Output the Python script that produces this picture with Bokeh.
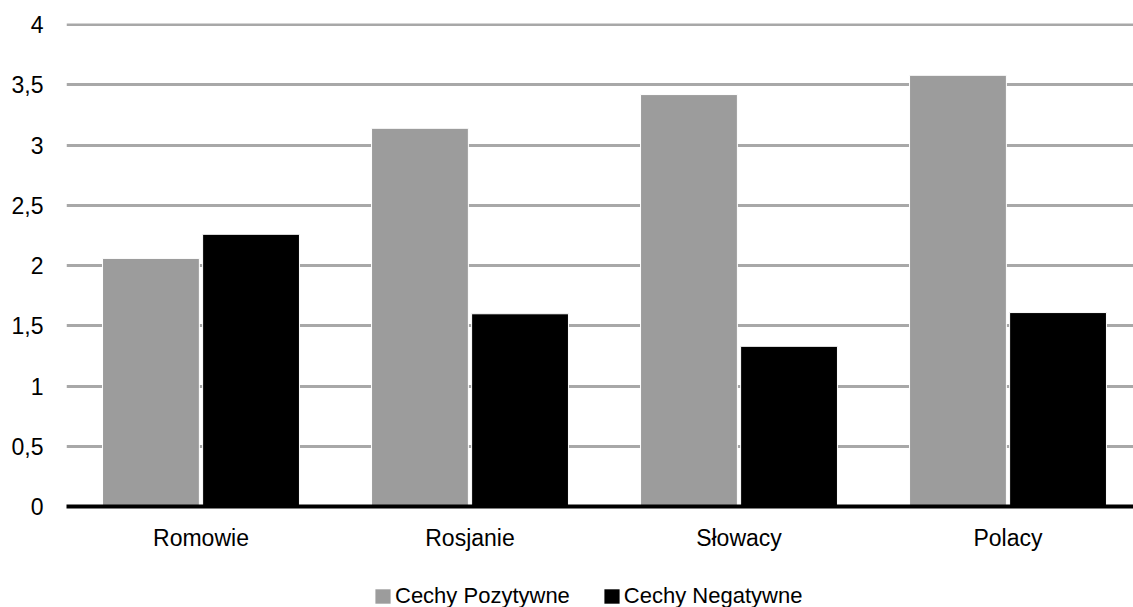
from bokeh.plotting import figure
from bokeh.layouts import column
from bokeh.models import (ColumnDataSource, FixedTicker, CustomJSTickFormatter,
                          Legend, LegendItem)
from bokeh.transform import dodge
from bokeh.embed import file_html
from bokeh.resources import INLINE

categories = ["Romowie", "Rosjanie", "Słowacy", "Polacy"]
positive = [2.06, 3.14, 3.42, 3.58]
negative = [2.26, 1.60, 1.33, 1.61]
series_names = ["Cechy Pozytywne", "Cechy Negatywne"]
series_colors = ["#9C9C9C", "#000000"]
y_ticks = [0, 0.5, 1, 1.5, 2, 2.5, 3, 3.5, 4]

FONT = "Liberation Sans"

src = ColumnDataSource(dict(x=list(range(len(categories))), pos=positive, neg=negative))

p = figure(width=1133, height=574, output_backend="svg", toolbar_location=None,
           x_range=(-0.5, 3.4665), y_range=(0, 4.01),
           min_border_left=66, min_border_right=0, min_border_top=23,
           min_border_bottom=68)
p.outline_line_color = None

p.vbar(x=dodge("x", -0.186, range=p.x_range), top="pos", width=0.36, source=src,
       fill_color=series_colors[0], line_color="white", line_width=1)
p.vbar(x=dodge("x", 0.186, range=p.x_range), top="neg", width=0.36, source=src,
       fill_color=series_colors[1], line_color="white", line_width=1)

# axes
p.xgrid.visible = False
p.ygrid.grid_line_color = "#A8A8A8"
p.ygrid.grid_line_width = 3
p.yaxis.ticker = FixedTicker(ticks=y_ticks)
p.yaxis.formatter = CustomJSTickFormatter(code="return tick.toString().replace('.', ',');")
p.yaxis.axis_line_color = None
p.yaxis.major_tick_line_color = None
p.yaxis.minor_tick_line_color = None
p.yaxis.major_label_standoff = 17
p.yaxis.major_label_text_font = FONT
p.yaxis.major_label_text_font_size = "23px"
p.yaxis.major_label_text_color = "black"

p.xaxis.ticker = FixedTicker(ticks=list(range(len(categories))))
p.xaxis.major_label_overrides = {i: c for i, c in enumerate(categories)}
p.xaxis.axis_line_color = "black"
p.xaxis.axis_line_width = 4
p.xaxis.major_tick_line_color = None
p.xaxis.minor_tick_line_color = None
p.xaxis.major_label_standoff = 12
p.xaxis.major_label_text_font = FONT
p.xaxis.major_label_text_font_size = "23px"
p.xaxis.major_label_text_color = "black"

# legend strip below the chart (its bars lie below its visible range)
pl = figure(width=1133, height=33, output_backend="svg", toolbar_location=None,
            x_axis_type=None, y_axis_type=None, x_range=(-0.5, 3.4665),
            y_range=(50, 51), min_border=0)
pl.outline_line_color = None
pl.grid.visible = False
lr1 = pl.vbar(x="x", top="pos", width=0.36, source=src,
              fill_color=series_colors[0], line_color=None)
lr2 = pl.vbar(x="x", top="neg", width=0.36, source=src,
              fill_color=series_colors[1], line_color=None)

legend = Legend(items=[LegendItem(label=series_names[0], renderers=[lr1]),
                       LegendItem(label=series_names[1], renderers=[lr2])],
                orientation="horizontal", location=(307, -2),
                glyph_width=19, glyph_height=18, label_standoff=3, spacing=32,
                padding=0, margin=0, border_line_alpha=0, background_fill_alpha=0,
                label_text_font=FONT, label_text_font_size="22px",
                label_text_color="black")
pl.add_layout(legend, "center")

layout = column(p, pl, spacing=0)
open("out.html", "w").write(file_html(layout, INLINE))
